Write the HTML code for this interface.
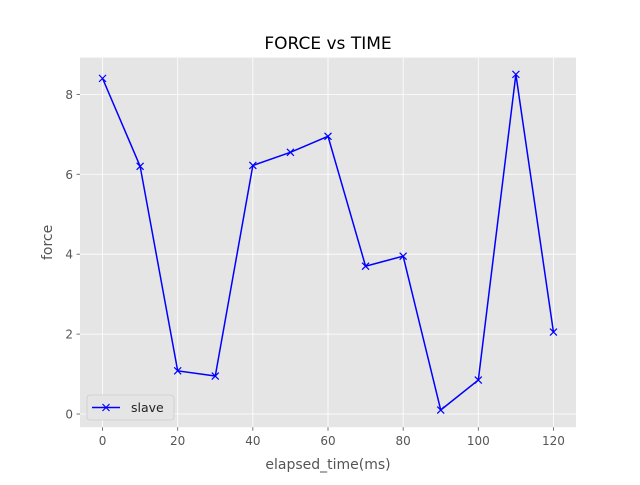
<!DOCTYPE html>
<html><head><meta charset="utf-8"><style>
html,body{margin:0;padding:0;background:#fff;}
svg text{font-family:"DejaVu Sans","Liberation Sans",sans-serif;}
</style></head><body>
<svg id="chart" width="640" height="480" xmlns="http://www.w3.org/2000/svg"></svg>
<script>
const times = [0,10,20,30,40,50,60,70,80,90,100,110,120];
const force = [8.4,6.2,1.08,0.95,6.22,6.55,6.95,3.7,3.95,0.1,0.85,8.5,2.05];
const xTicks = [0,20,40,60,80,100,120];
const yTicks = [0,2,4,6,8];

const L=80,R=576,T=57.6,B=427.2;
const xMin=-6,xMax=126,yMin=-0.33,yMax=8.92;
const sx=v=>L+(v-xMin)/(xMax-xMin)*(R-L);
const sy=v=>B-(v-yMin)/(yMax-yMin)*(B-T);
const svg=document.getElementById('chart');
const NS='http://www.w3.org/2000/svg';
function mk(tag,attrs,parent){const e=document.createElementNS(NS,tag);for(const k in attrs)e.setAttribute(k,attrs[k]);(parent||svg).appendChild(e);return e;}

const bg=mk('rect',{x:L,y:T,width:R-L,height:B-T,fill:'#e5e5e5'});



xTicks.forEach(v=>{
  const x=sx(v);
  const g=mk('line',{x1:x,x2:x,y1:T,y2:B,stroke:'#fff','stroke-width':0.8});
  
  
  mk('line',{x1:x,x2:x,y1:B,y2:B+3.5,stroke:'#555','stroke-width':0.8});
  const t=mk('text',{x:x,y:B+18,'text-anchor':'middle','font-size':12,fill:'#555'});
  t.textContent=v;
  
  
});
yTicks.forEach(v=>{
  const y=sy(v);
  const g=mk('line',{x1:L,x2:R,y1:y,y2:y,stroke:'#fff','stroke-width':0.8});
  
  
  mk('line',{x1:L-3.5,x2:L,y1:y,y2:y,stroke:'#555','stroke-width':0.8});
  const t=mk('text',{x:L-7,y:y+4.5,'text-anchor':'end','font-size':12,fill:'#555'});
  t.textContent=v;
  
  
});

const pts=times.map((t,i)=>sx(t)+','+sy(force[i])).join(' ');
const line=mk('polyline',{points:pts,fill:'none',stroke:'#0000ff','stroke-width':1.5});


times.forEach((t,i)=>{
  const x=sx(t),y=sy(force[i]),d=3.5;
  const m=mk('path',{d:`M${x-d},${y-d}L${x+d},${y+d}M${x-d},${y+d}L${x+d},${y-d}`,stroke:'#0000ff','stroke-width':1.2});
  
  
});

const title=mk('text',{x:(L+R)/2,y:49,'text-anchor':'middle','font-size':17,fill:'#000'});
title.textContent='FORCE vs TIME';


const xl=mk('text',{x:(L+R)/2,y:469,'text-anchor':'middle','font-size':14,fill:'#555'});
xl.textContent='elapsed_time(ms)';


const yl=mk('text',{x:0,y:0,'text-anchor':'middle','font-size':14,fill:'#555',transform:`translate(52,${(T+B)/2}) rotate(-90)`});
yl.textContent='force';



const lg=mk('g',{});


mk('rect',{x:87,y:395,width:87,height:25,rx:3,fill:'#e5e5e5',stroke:'#ccc','stroke-width':0.8},lg);
mk('line',{x1:92,x2:120,y1:407.5,y2:407.5,stroke:'#0000ff','stroke-width':1.5},lg);
mk('path',{d:'M102.5,404L109.5,411M102.5,411L109.5,404',stroke:'#0000ff','stroke-width':1.2},lg);
const lt=mk('text',{x:131,y:412,'font-size':12.5,fill:'#222'},lg);
lt.textContent='slave';


</script>
</body></html>
